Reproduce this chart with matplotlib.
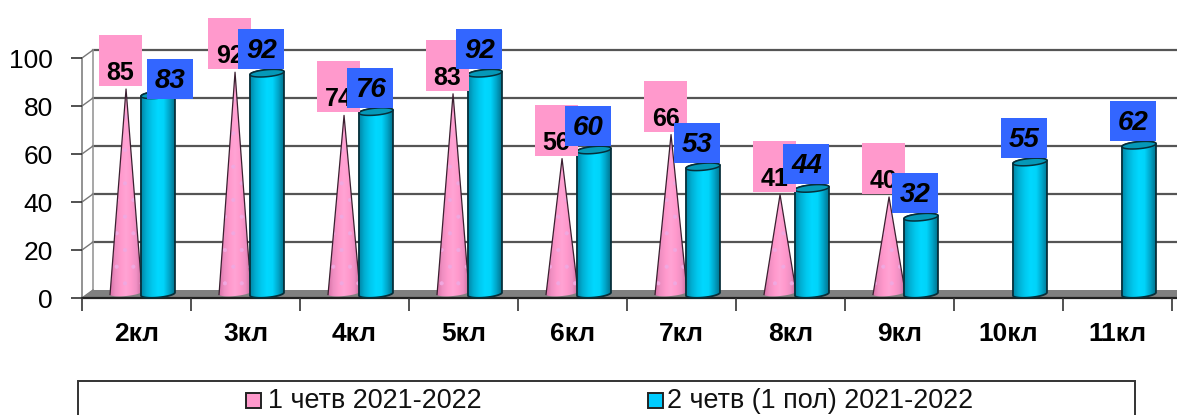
#! usr/env/python3
import numpy as np
import matplotlib
matplotlib.use("Agg")
import matplotlib.pyplot as plt
from matplotlib.colors import LinearSegmentedColormap
from matplotlib.patches import Polygon, Rectangle
from matplotlib.transforms import offset_copy

plt.rcParams["font.family"] = ["Liberation Sans", "DejaVu Sans"]
plt.rcParams["hatch.linewidth"] = 0.5

# Data
categories = ["2кл", "3кл", "4кл", "5кл", "6кл", "7кл", "8кл", "9кл", "10кл", "11кл"]
quarter1 = [85, 92, 74, 83, 56, 66, 41, 40, None, None]
quarter2 = [83, 92, 76, 92, 60, 53, 44, 32, 55, 62]
y_ticks = [0, 20, 40, 60, 80, 100]
legend_labels = ["1 четв 2021-2022", "2 четв (1 пол) 2021-2022"]

W, H = 1177, 415
fig = plt.figure(figsize=(W / 100, H / 100), dpi=100, facecolor="white")
ax = fig.add_axes([82 / W, (H - 298) / H, 1090 / W, 240 / H])

# pixels -> data units
PX = 1 / 109
PY = 1 / 2.4

cyl_map = LinearSegmentedColormap.from_list(
    "cyl", ["#0088a8", "#00b0d4", "#00c8ee", "#00d8ff", "#00d4fa", "#00a8cc", "#007490"])
cone_map = LinearSegmentedColormap.from_list(
    "cone", ["#d873a8", "#f08fc2", "#ff99cc", "#ffa4d4", "#ff99cc", "#f090c4", "#c86c9c"])
grad = np.linspace(0, 1, 64).reshape(1, -1)

back = offset_copy(ax.transData, fig, x=11, y=8, units="dots")
cyl_tr = offset_copy(ax.transData, fig, x=0, y=4, units="dots")
cone_tr = offset_copy(ax.transData, fig, x=0, y=5, units="dots")


def ellipse_pts(cx, v, half_w, half_h, t0=0, t1=2 * np.pi):
    t = np.linspace(t0, t1, 40)
    xs = cx + half_w * PX * np.cos(t)
    ys = v + (half_h * np.sin(t) + 1.5 * np.cos(t)) * PY
    return np.column_stack([xs, ys])


def draw_cylinder(cx, v):
    low = ellipse_pts(cx, 0, 17, 3.5, np.pi, 2 * np.pi)
    high = ellipse_pts(cx, v, 17, 3.5, 0, np.pi)
    body = Polygon(np.vstack([low, high]), closed=True, facecolor="none", edgecolor="#062f3a",
                   lw=1.3, transform=cyl_tr, zorder=3.1, clip_on=False)
    ax.add_patch(body)
    im = ax.imshow(grad, cmap=cyl_map, aspect="auto", zorder=3,
                   extent=[cx - 17 * PX, cx + 17 * PX, -5, v + 5])
    im.set_transform(cyl_tr)
    im.set_clip_path(body)
    top = Polygon(ellipse_pts(cx, v, 17, 3.5), closed=True, facecolor="#0598b8",
                  edgecolor="#062f3a", lw=1.1, transform=cyl_tr, zorder=3.2, clip_on=False)
    ax.add_patch(top)


def draw_cone(cx, v):
    low = ellipse_pts(cx, 0, 16, 3, np.pi, 2 * np.pi)
    pts = np.vstack([low, [[cx, v]]])
    body = Polygon(pts, closed=True, facecolor="none", edgecolor="none",
                   transform=cone_tr, zorder=2.2, clip_on=False)
    ax.add_patch(body)
    im = ax.imshow(grad, cmap=cone_map, aspect="auto", zorder=2,
                   extent=[cx - 16 * PX, cx + 16 * PX, -5, v + 2])
    im.set_transform(cone_tr)
    im.set_clip_path(body)
    dots = Polygon(pts, closed=True, facecolor="none", edgecolor="#f0a8e0", hatch=".",
                   lw=0, transform=cone_tr, zorder=2.1, clip_on=False)
    ax.add_patch(dots)
    # only the two sides get an outline
    ax.plot([low[0][0], cx, low[-1][0]], [low[0][1], v, low[-1][1]], color="#3a2030", lw=0.9,
            transform=cone_tr, zorder=2.3, clip_on=False)


def draw_label(cx, y_px, w, h, color, text, text_up, size, style, zorder):
    # cx in data, y_px is height of box bottom above zero in pixels
    ax.add_patch(Rectangle((cx - w / 2 * PX, y_px * PY), w * PX, h * PY, facecolor=color,
                           edgecolor="none", zorder=zorder, clip_on=False))
    ax.text(cx, (y_px + text_up) * PY, text, ha="center", va="center", fontsize=size,
            fontweight="bold", fontstyle=style, color="black", zorder=zorder + 0.1, clip_on=False)


# Walls and floor
for t in y_ticks[1:]:
    ax.plot([0, 11], [t, t], color="#555555", lw=1.6, transform=back, zorder=1, clip_on=False)
ax.plot([0, 0], [0, 100], color="#a0a0a0", lw=1.3, transform=back, zorder=1, clip_on=False)
ax.plot([0, 0], [0, 100], color="#8a8a8a", lw=1.3, zorder=1, clip_on=False)
floor = Polygon([(0, 0), (11 * PX, 8 * PY), (11, 8 * PY), (10, 0)], closed=True,
                facecolor="#808080", edgecolor="none", zorder=1.2, clip_on=False)
ax.add_patch(floor)
for t in y_ticks:
    ax.plot([0, 11 * PX], [t, t + 8 * PY], color="#777777", lw=1.0, zorder=1, clip_on=False)
ax.plot([0, 10.2], [0, 0], color="#222222", lw=1.6, zorder=1.5, clip_on=False)

# Bars
for i, (a, b) in enumerate(zip(quarter1, quarter2)):
    if a is not None:
        draw_cone(i + 0.404, a)
    draw_cylinder(i + 0.697, b)

# Value boxes
for i, a in enumerate(quarter1):
    if a is not None:
        cx = i + 0.404 - 5.5 * PX
        draw_label(cx, a * 2.4 + 8, 43, 51, "#ff99cc", str(a), 13, 18, "normal", 4)
for i, b in enumerate(quarter2):
    cx = i + 0.697 - 5.5 * PX
    bottom = b * 2.4 + 8
    if i == 0:  # this label was moved in the original
        cx += 17.5 * PX
        bottom -= 8
    draw_label(cx, bottom, 46, 40, "#3366ff", str(b), 18, 20, "italic", 5)

# Axes
ax.set_xlim(0, 10)
ax.set_ylim(0, 100)
ax.patch.set_visible(False)
for s in ax.spines.values():
    s.set_visible(False)
ax.set_yticks(y_ticks)
ax.tick_params(axis="y", length=8, width=1.2, color="#333333", labelsize=19, pad=13)
ax.set_xticks(range(11))
ax.set_xticklabels([])
ax.tick_params(axis="x", which="major", length=9, width=1.2, color="#333333")
ax.set_xticks(np.arange(10) + 0.5, minor=True)
ax.set_xticklabels(categories, minor=True, fontsize=19, fontweight="bold")
ax.tick_params(axis="x", which="minor", length=0, pad=17)

# Legend
fig.add_artist(Rectangle((78 / W, 0 - 0.02), 1057 / W, (H - 381) / H + 0.02, transform=fig.transFigure,
                         facecolor="white", edgecolor="#333333", lw=1.4))
leg_y = (H - 401) / H
for x0, col, x_txt, lab in zip([246, 648], ["#ff99cc", "#00ccff"], [268, 667], legend_labels):
    fig.add_artist(Rectangle((x0 / W, (H - 408) / H), 15 / W, 15 / H, transform=fig.transFigure,
                             facecolor=col, edgecolor="#222222", lw=1.4))
    fig.text(x_txt / W, leg_y, lab, fontsize=19.4, ha="left", va="center", color="#111111")

fig.savefig("out.png", dpi=100)
